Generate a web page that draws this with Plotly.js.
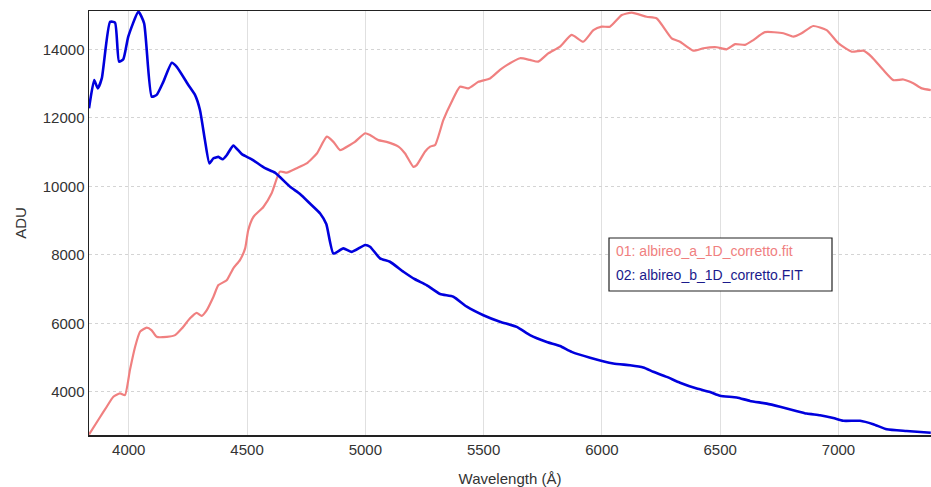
<!DOCTYPE html>
<html>
<head>
<meta charset="utf-8">
<script src="https://cdn.plot.ly/plotly-3.0.1.min.js"></script>
<style>
html,body{margin:0;padding:0;background:#fff;}
#chart{width:931px;height:487px;}
</style>
</head>
<body>
<div id="chart"></div>
<script>
// Series names
const seriesNames = ["01: albireo_a_1D_corretto.fit", "02: albireo_b_1D_corretto.FIT"];

// Series 01 (albireo A) wavelength (Å) and ADU
const redWavelength = [3832,3879,3907,3935,3963,3984,4005,4027,4048,4076,4097,4118,4161,4196,4224,4259,4287,4308,4330,4358,4379,4414,4442,4470,4492,4505,4527,4569,4604,4639,4668,4710,4752,4795,4837,4865,4893,4935,4956,4999,5020,5055,5090,5140,5168,5203,5217,5252,5274,5295,5330,5365,5400,5435,5478,5527,5569,5598,5654,5696,5731,5773,5823,5872,5921,5964,5999,6034,6084,6126,6189,6232,6295,6330,6386,6429,6485,6527,6563,6605,6640,6689,6767,6809,6844,6893,6950,6999,7056,7105,7140,7189,7232,7274,7316,7352,7390];
const redADU = [2760,3270,3570,3860,3960,3910,4640,5320,5760,5880,5800,5610,5610,5660,5850,6150,6310,6220,6390,6780,7120,7260,7610,7850,8190,8720,9110,9400,9800,10430,10400,10530,10670,10960,11450,11300,11060,11210,11300,11550,11500,11350,11300,11160,10960,10570,10620,11010,11160,11210,11940,12470,12910,12860,13050,13150,13400,13540,13740,13690,13640,13880,14080,14420,14220,14560,14660,14660,15000,15070,14950,14900,14320,14220,13960,14030,14060,14000,14150,14130,14270,14500,14470,14370,14470,14680,14560,14180,13930,13960,13780,13400,13100,13120,13010,12860,12810];

// Series 02 (albireo B) wavelength (Å) and ADU
const blueWavelength = [3832,3854,3869,3886,3921,3942,3959,3977,3998,4041,4065,4097,4118,4146,4182,4203,4252,4280,4301,4322,4341,4358,4379,4397,4414,4442,4478,4520,4576,4618,4682,4724,4766,4809,4835,4865,4907,4943,4999,5020,5062,5104,5161,5210,5259,5316,5372,5429,5499,5569,5640,5696,5767,5823,5872,5950,6048,6119,6175,6217,6274,6330,6401,6457,6499,6570,6626,6697,6753,6809,6866,6922,6978,7020,7091,7147,7204,7288,7390];
const blueADU = [12280,13100,12860,13150,14800,14780,13640,13710,14370,15100,14760,12620,12670,13050,13610,13490,12960,12670,12230,11350,10670,10820,10860,10790,10910,11190,10940,10790,10530,10400,9990,9780,9500,9210,8900,8040,8190,8090,8290,8240,7900,7800,7510,7290,7120,6860,6780,6490,6240,6050,5900,5660,5460,5340,5170,5000,4830,4780,4715,4590,4440,4270,4100,4000,3890,3840,3740,3660,3570,3470,3370,3320,3240,3160,3160,3060,2910,2860,2810];

// Axis ticks
const xTicks = [4000,4500,5000,5500,6000,6500,7000];
const yTicks = [4000,6000,8000,10000,12000,14000];

const FONT = "Liberation Sans, Arial, sans-serif";
const redColor = "#f08080";
const blueColor = "#0000dd";

const traces = [
  {x: redWavelength, y: redADU, type: "scatter", mode: "lines", name: seriesNames[0],
   line: {color: redColor, width: 2.2, shape: "spline", smoothing: 0.5}, showlegend: false, hoverinfo: "x+y"},
  {x: blueWavelength, y: blueADU, type: "scatter", mode: "lines", name: seriesNames[1],
   line: {color: blueColor, width: 2.6, shape: "spline", smoothing: 0.5}, showlegend: false, hoverinfo: "x+y"}
];

const L = 89, T = 11, B = 52, W = 931, H = 487;
const pw = W - L, ph = H - T - B;
function px(xp){ return (xp - L) / pw; }
function py(yp){ return (H - B - yp) / ph; }

const layout = {
  width: W, height: H,
  margin: {l: L, r: 0, t: T, b: B},
  paper_bgcolor: "#fff", plot_bgcolor: "#fff",
  font: {family: FONT, size: 15, color: "#333"},
  xaxis: {
    range: [3832, 7391], tickvals: xTicks, ticktext: xTicks.map(String),
    showgrid: true, gridcolor: "#e0e0e0", gridwidth: 1,
    zeroline: false, showline: true, linecolor: "#222", linewidth: 1.5, mirror: true,
    ticks: "", tickfont: {family: FONT, size: 15, color: "#333"},
    title: {text: "Wavelength (Å)", font: {family: FONT, size: 15, color: "#333"}, standoff: 17}
  },
  yaxis: {
    range: [2745, 15118], tickvals: yTicks, ticktext: yTicks.map(String),
    showgrid: true, gridcolor: "#d4d4d4", gridwidth: 1, griddash: "dot",
    zeroline: false, showline: true, linecolor: "#222", linewidth: 1.5, mirror: false,
    ticks: "", tickfont: {family: FONT, size: 15, color: "#333"},
    title: {text: "ADU", font: {family: FONT, size: 15, color: "#333"}, standoff: 12}
  },
  shapes: [
    {type: "rect", xref: "paper", yref: "paper",
     x0: px(609), x1: px(832), y0: py(291), y1: py(238),
     line: {color: "#222", width: 1.2}, fillcolor: "#fff", layer: "above"}
  ],
  annotations: [
    {xref: "paper", yref: "paper", x: px(614), y: py(251), xanchor: "left", yanchor: "middle",
     text: seriesNames[0], showarrow: false, font: {family: FONT, size: 14, color: redColor}},
    {xref: "paper", yref: "paper", x: px(614), y: py(275), xanchor: "left", yanchor: "middle",
     text: seriesNames[1], showarrow: false, font: {family: FONT, size: 14, color: "#1a1a8c"}}
  ]
};

Plotly.newPlot("chart", traces, layout, {displayModeBar: false, staticPlot: true});
</script>
</body>
</html>
